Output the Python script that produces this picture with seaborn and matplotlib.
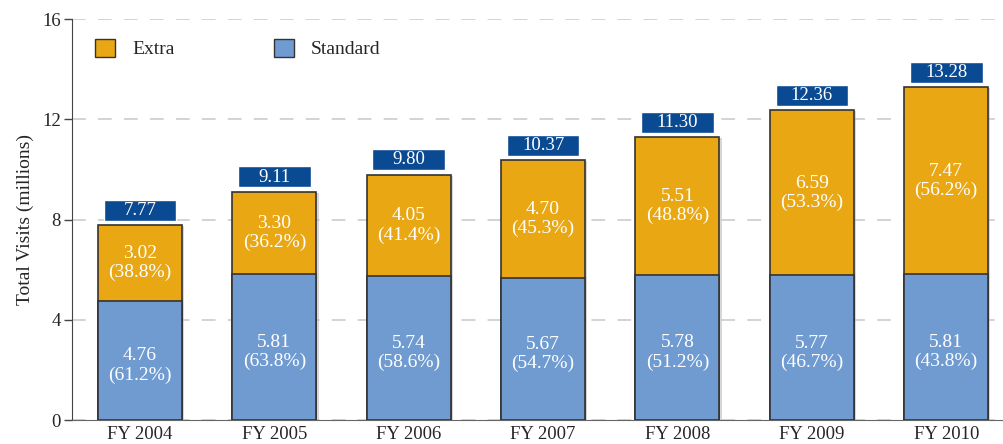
import numpy as np
import matplotlib
matplotlib.use("Agg")
import matplotlib.pyplot as plt
import matplotlib.patheffects as pe
import seaborn as sns
import pandas as pd
from matplotlib.patches import Patch

# Datos
years = ["FY 2004", "FY 2005", "FY 2006", "FY 2007", "FY 2008", "FY 2009", "FY 2010"]
standard = [4.76, 5.81, 5.74, 5.67, 5.78, 5.77, 5.81]
extra = [3.02, 3.30, 4.05, 4.70, 5.51, 6.59, 7.47]
totals = [7.77, 9.11, 9.80, 10.37, 11.30, 12.36, 13.28]
standard_pct = [61.2, 63.8, 58.6, 54.7, 51.2, 46.7, 43.8]
extra_pct = [38.8, 36.2, 41.4, 45.3, 48.8, 53.3, 56.2]

df = pd.DataFrame({"year": years, "standard": standard, "extra": extra,
                   "stack": np.array(standard) + np.array(extra)})

c_extra = "#E8A713"
c_std = "#6F9BD1"
c_box = "#0A4A92"
edge = "#333333"

sns.set_style("white")
plt.rcParams["font.family"] = ["Liberation Serif", "DejaVu Serif"]

fig = plt.figure(figsize=(10.04, 4.44), dpi=100)
ax = fig.add_axes([0.0717, 0.054, 0.9283, 0.903])

w = 0.625
sns.barplot(data=df, x="year", y="stack", color=c_extra, saturation=1,
            width=w, edgecolor=edge, linewidth=1.2, ax=ax, zorder=3)
sns.barplot(data=df, x="year", y="standard", color=c_std, saturation=1,
            width=w, edgecolor=edge, linewidth=1.2, ax=ax, zorder=4)
shadow = [pe.SimplePatchShadow(offset=(1.6, -0.8), shadow_rgbFace="#b0b0b0", alpha=0.5),
          pe.Normal()]
for p in ax.patches[:len(years)]:
    p.set_path_effects(shadow)

# Etiquetas de total (caja azul)
ax.bar(range(len(years)), [0.84] * len(years), bottom=np.array(totals) + 0.17,
       width=0.54, color=c_box, zorder=5)
for i, t in enumerate(totals):
    ax.text(i, t + 0.58, f"{t:.2f}", ha="center", va="center",
            color="white", fontsize=13.5, zorder=6)

# Etiquetas dentro de las barras
for i in range(len(years)):
    ax.text(i, standard[i] / 2 - 0.2, f"{standard[i]:.2f}\n({standard_pct[i]:.1f}%)",
            ha="center", va="center", color="white", fontsize=14,
            linespacing=1.15, zorder=6)
    ax.text(i, standard[i] + extra[i] / 2, f"{extra[i]:.2f}\n({extra_pct[i]:.1f}%)",
            ha="center", va="center", color="white", fontsize=14,
            linespacing=1.15, zorder=6)

ax.set_ylim(0, 16)
ax.set_xlim(-0.506, 6.43)
ax.set_yticks([0, 4, 8, 12, 16])
ax.yaxis.grid(True, linestyle=(0, (9, 8)), color="#c8c8c8", linewidth=1.1)
ax.set_axisbelow(True)
for s in ["top", "right"]:
    ax.spines[s].set_visible(False)
ax.spines["left"].set_color("#444444")
ax.spines["bottom"].set_color("#666666")
ax.tick_params(axis="y", length=6, width=1, color="#444444", labelsize=13.5, pad=2, left=True)
ax.tick_params(axis="x", length=0, labelsize=13.5, pad=4)
ax.set_xlabel("")
ax.set_ylabel("Total Visits (millions)", fontsize=14, labelpad=6)

handles = [Patch(facecolor=c_extra, edgecolor=edge, label="Extra"),
           Patch(facecolor=c_std, edgecolor=edge, label="Standard")]
ax.legend(handles=handles, loc="upper left", bbox_to_anchor=(0.006, 0.995), ncol=2,
          frameon=False, fontsize=14, handlelength=1.05, handleheight=1.05,
          handletextpad=0.85, columnspacing=5.1)

fig.savefig("out.png", dpi=100)
